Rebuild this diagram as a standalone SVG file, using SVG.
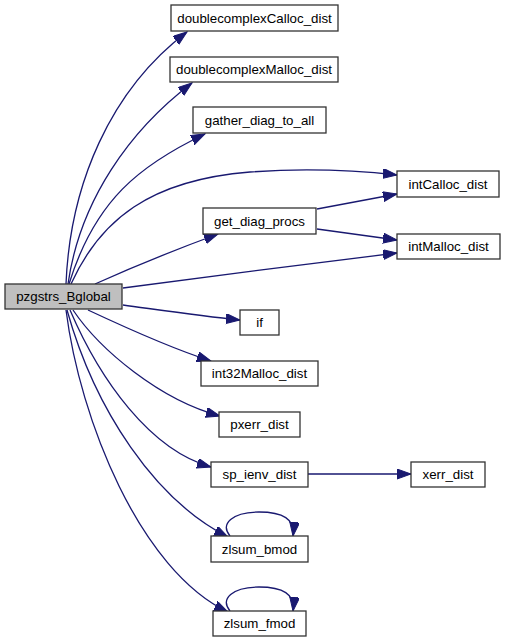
<svg xmlns="http://www.w3.org/2000/svg" width="505" height="643" viewBox="0 0 505 643">
<style>
.n rect{fill:#fff;stroke:#333;stroke-width:1.3}
.n.root rect{fill:#bfbfbf}
.n text{font-family:"Liberation Sans",Arial,sans-serif;font-size:13.3px;text-anchor:middle;fill:#000}
.e path{fill:none;stroke:#191970;stroke-width:1.3;marker-end:url(#ah)}
</style>
<defs>
<marker id="ah" markerUnits="userSpaceOnUse" markerWidth="15" markerHeight="11" refX="14" refY="5" orient="auto">
<path d="M0,0 L14,5 L0,10 Z" fill="#191970" stroke="#191970" stroke-width="1"/>
</marker>
</defs>
<rect width="505" height="643" fill="#fff"/>
<g id="edges" class="e">
<path d="M66,284 C 70,185 110,90 187,32"/>
<path d="M68,284 C 80,200 130,130 192,83"/>
<path d="M69,284 C 95,200 140,165 205,134"/>
<path d="M71,284 C 100,220 150,180 250,172 C 320,167 370,172 397,175"/>
<path d="M95,284 C 135,266 180,248 218,234"/>
<path d="M123,288 C 200,278 320,262 397,253"/>
<path d="M317,209 L397,194"/>
<path d="M317,229 L397,240"/>
<path d="M123,305 C 160,310 200,316 240,320"/>
<path d="M88,310 C 120,325 170,348 211,361"/>
<path d="M73,310 C 100,350 160,400 220,416"/>
<path d="M70,310 C 100,380 150,450 211,467"/>
<path d="M308,474 L411,474"/>
<path d="M67,310 C 95,410 155,500 228,537"/>
<path d="M66,310 C 80,420 140,570 228,612"/>
<path d="M230,536 C 220,524 232,512 259,512 C 283,512 295,519 293,536"/>
<path d="M230,611 C 220,599 232,587 259,587 C 283,587 295,594 293,611"/>
</g>
<g id="pzgstrs_Bglobal" class="n root"><rect x="5" y="284" width="117" height="25"/><text x="63.5" y="301">pzgstrs_Bglobal</text></g>
<g id="doublecomplexCalloc_dist" class="n"><rect x="171" y="5" width="167" height="26"/><text x="254.5" y="22.5">doublecomplexCalloc_dist</text></g>
<g id="doublecomplexMalloc_dist" class="n"><rect x="170" y="57" width="168" height="25"/><text x="254" y="74">doublecomplexMalloc_dist</text></g>
<g id="gather_diag_to_all" class="n"><rect x="193" y="107" width="133" height="26"/><text x="259.5" y="124.5">gather_diag_to_all</text></g>
<g id="intCalloc_dist" class="n"><rect x="397" y="171" width="102" height="26"/><text x="448" y="188.5">intCalloc_dist</text></g>
<g id="get_diag_procs" class="n"><rect x="203" y="208" width="113" height="26"/><text x="259.5" y="225.5">get_diag_procs</text></g>
<g id="intMalloc_dist" class="n"><rect x="397" y="234" width="103" height="25"/><text x="448.5" y="251">intMalloc_dist</text></g>
<g id="if" class="n"><rect x="240" y="310" width="39" height="25"/><text x="259.5" y="327">if</text></g>
<g id="int32Malloc_dist" class="n"><rect x="201" y="361" width="117" height="25"/><text x="259.5" y="378">int32Malloc_dist</text></g>
<g id="pxerr_dist" class="n"><rect x="219" y="412" width="81" height="25"/><text x="259.5" y="429">pxerr_dist</text></g>
<g id="sp_ienv_dist" class="n"><rect x="211" y="462" width="97" height="25"/><text x="259.5" y="479">sp_ienv_dist</text></g>
<g id="xerr_dist" class="n"><rect x="411" y="462" width="74" height="25"/><text x="448" y="479">xerr_dist</text></g>
<g id="zlsum_bmod" class="n"><rect x="211" y="536" width="97" height="26"/><text x="259.5" y="553.5">zlsum_bmod</text></g>
<g id="zlsum_fmod" class="n"><rect x="213" y="611" width="93" height="25"/><text x="259.5" y="628">zlsum_fmod</text></g>
</svg>
